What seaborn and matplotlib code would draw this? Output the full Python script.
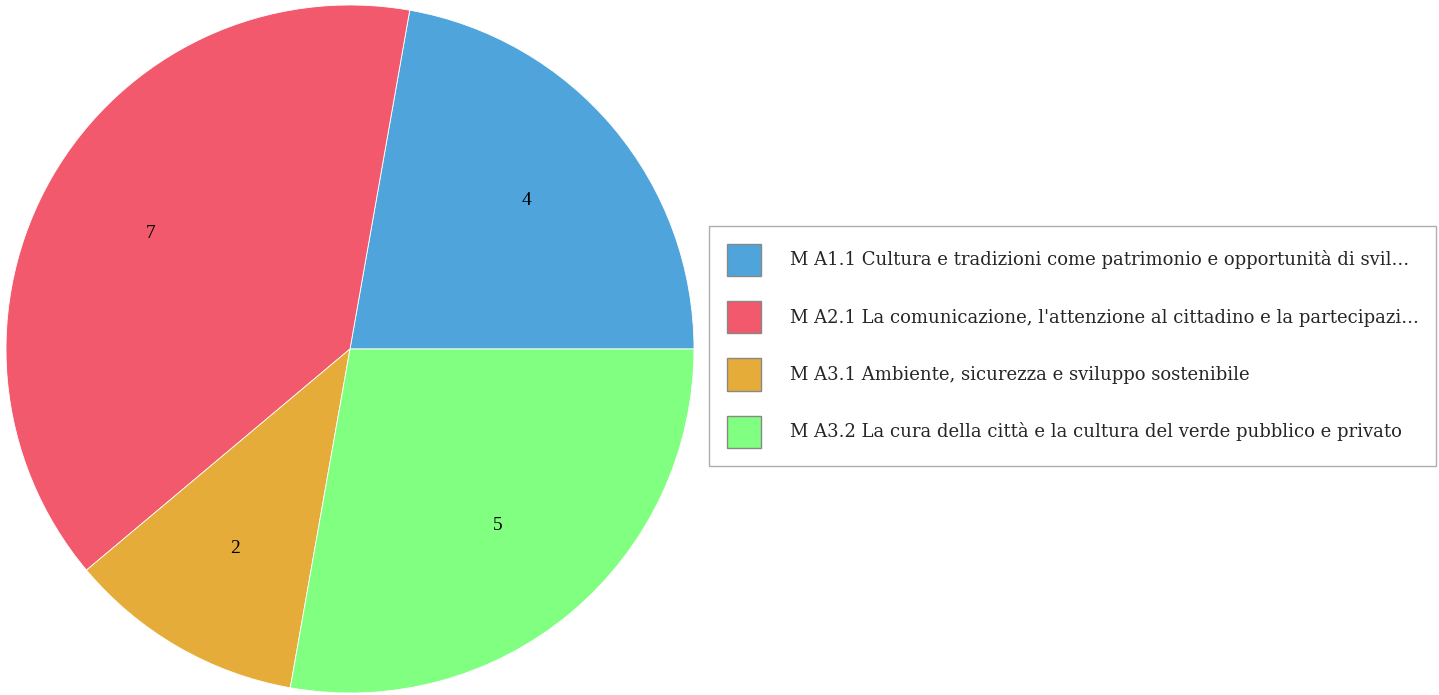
import matplotlib
matplotlib.use("Agg")
import matplotlib.pyplot as plt
import seaborn as sns

categories = [
    "M A1.1 Cultura e tradizioni come patrimonio e opportunità di svil...",
    "M A2.1 La comunicazione, l'attenzione al cittadino e la partecipazi...",
    "M A3.1 Ambiente, sicurezza e sviluppo sostenibile",
    "M A3.2 La cura della città e la cultura del verde pubblico e privato",
]
values = [4, 7, 2, 5]
colors = ["#4FA5DB", "#F2596C", "#E6AC3A", "#80FF80"]

sns.set_theme(style="white")
plt.rcParams["font.family"] = ["Liberation Serif", "DejaVu Serif"]

W, H = 1439, 695
fig = plt.figure(figsize=(W / 100, H / 100), dpi=100)
ax = fig.add_axes([6 / W, 2 / H, 688 / W, 688 / H])

total = sum(values)
wedges, texts, autotexts = ax.pie(
    values,
    colors=colors,
    startangle=0,
    counterclock=True,
    autopct=lambda p: f"{round(p * total / 100):d}",
    pctdistance=0.67,
    wedgeprops=dict(edgecolor="white", linewidth=0.6),
    textprops=dict(fontsize=14, color="black"),
    radius=1.0,
)
ax.set_xlim(-1, 1)
ax.set_ylim(-1, 1)
ax.set_aspect("equal")
ax.axis("off")

fs = 13.0
leg = fig.legend(
    wedges,
    categories,
    loc="upper left",
    bbox_to_anchor=(709 / W, 1 - 226 / H),
    prop=dict(family="DejaVu Serif", size=fs),
    frameon=True,
    fancybox=False,
    edgecolor="#999999",
    handlelength=1.88,
    handleheight=2.38,
    handletextpad=1.6,
    labelspacing=1.38,
    borderpad=0.98,
    borderaxespad=0,
)
leg.get_frame().set_linewidth(1.0)
for h in leg.legend_handles:
    h.set_edgecolor("#888888")
    h.set_linewidth(1.0)

fig.savefig("out.png", dpi=100, facecolor="white")
